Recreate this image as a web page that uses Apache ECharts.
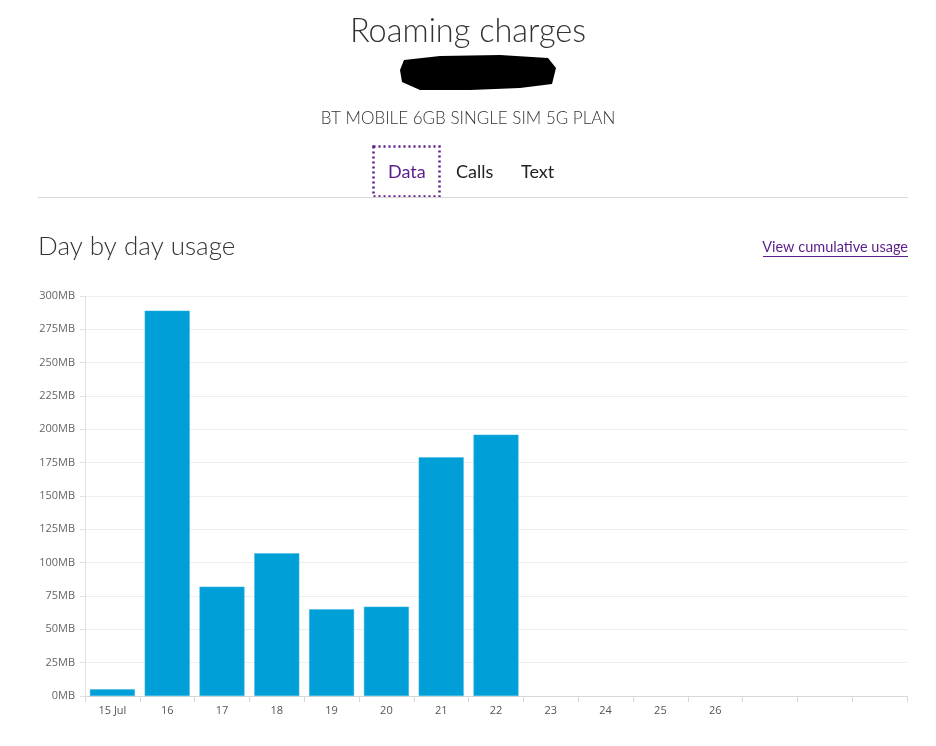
<!DOCTYPE html>
<html><head><meta charset="utf-8">
<style>html,body{margin:0;padding:0;background:#fff}#c{width:936px;height:746px}</style>
<script src="https://cdn.jsdelivr.net/npm/echarts@6/dist/echarts.min.js"></script>
</head><body><div id="c"></div>
<script>
var categories = ['15 Jul','16','17','18','19','20','21','22','23','24','25','26','','',''];
var usageMB = [5, 289, 82, 107, 65, 67, 179, 196, null, null, null, null, null, null, null];
var yTicks = {min: 0, max: 300, interval: 25, unit: 'MB'};

var chart = echarts.init(document.getElementById('c'));
var font = 'Open Sans';
chart.setOption({
  animation: false,
  backgroundColor: '#fff',
  title: [
    {text: 'Roaming charges', left: 'center', top: 15, padding: 0, textStyle: {fontFamily: 'Lato', fontWeight: 300, fontSize: 32.5, color: '#333'}},
    {text: 'BT MOBILE 6GB SINGLE SIM 5G PLAN', left: 'center', top: 110, padding: 0, textStyle: {fontFamily: 'Lato', fontWeight: 300, fontSize: 17, color: '#333'}},
    {text: 'Data', left: 388, top: 163, padding: 0, textStyle: {fontFamily: 'Lato', fontWeight: 400, fontSize: 18, color: '#5c1a8c'}},
    {text: 'Calls', left: 456, top: 163, padding: 0, textStyle: {fontFamily: 'Lato', fontWeight: 400, fontSize: 18, color: '#222'}},
    {text: 'Text', left: 521, top: 163, padding: 0, textStyle: {fontFamily: 'Lato', fontWeight: 400, fontSize: 18, color: '#222'}},
    {text: 'Day by day usage', left: 38, top: 234, padding: 0, textStyle: {fontFamily: 'Lato', fontWeight: 300, fontSize: 26, color: '#333'}},
    {text: 'View cumulative usage', right: 28, top: 240, padding: 0, textStyle: {fontFamily: 'Lato', fontWeight: 400, fontSize: 14.5, color: '#5a1e8c'}}
  ],
  graphic: [
    {type: 'rect', shape: {x: 373.5, y: 146.5, width: 66, height: 50}, style: {fill: 'none', stroke: '#5c1a8c', lineWidth: 2.5, lineDash: [2, 3]}},
    {type: 'line', shape: {x1: 38, y1: 197.5, x2: 908, y2: 197.5}, style: {stroke: '#d8d8d8', lineWidth: 1}},
    {type: 'line', shape: {x1: 763, y1: 256.5, x2: 908, y2: 256.5}, style: {stroke: '#5a1e8c', lineWidth: 1}},
    {type: 'polygon', shape: {points: [[404,60],[440,56],[500,55],[548,58],[556,68],[552,84],[520,88],[470,90],[420,90],[402,82],[400,70]]}, style: {fill: '#000'}}
  ],
  grid: {left: 85, right: 29, top: 296, bottom: 50},
  xAxis: {
    type: 'category',
    data: categories,
    axisLine: {lineStyle: {color: '#d8d8d8'}},
    axisTick: {show: true, length: 6, lineStyle: {color: '#d8d8d8'}},
    axisLabel: {fontFamily: font, fontSize: 11, color: '#555', margin: 9}
  },
  yAxis: {
    type: 'value',
    min: yTicks.min, max: yTicks.max, interval: yTicks.interval,
    axisLine: {show: true, lineStyle: {color: '#e0e0e0'}},
    axisTick: {show: true, length: 5, lineStyle: {color: '#e0e0e0'}},
    splitLine: {lineStyle: {color: '#eeeeee'}},
    axisLabel: {fontFamily: font, fontSize: 11, color: '#666', margin: 10, formatter: function (v) { return v + yTicks.unit; }}
  },
  series: [{
    type: 'bar',
    data: usageMB,
    barWidth: 45,
    itemStyle: {color: '#009fd7', borderColor: '#3cb6e3', borderWidth: 0.5}
  }]
});
</script></body></html>
